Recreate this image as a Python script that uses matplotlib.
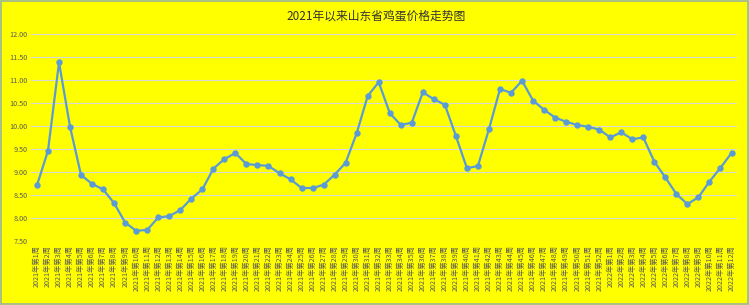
import matplotlib
matplotlib.use("Agg")
import matplotlib.pyplot as plt
from matplotlib.patches import Rectangle

plt.rcParams['font.family'] = ['Noto Sans CJK SC', 'DejaVu Sans']

# 周次标签
weeks = [f"2021年第{i}周" for i in range(1, 53)] + [f"2022年第{i}周" for i in range(1, 13)]

# 鸡蛋价格（元/公斤）
prices_2021 = [8.71, 9.46, 11.38, 9.98, 8.93, 8.74, 8.62, 8.32, 7.90, 7.72,
               7.74, 8.01, 8.04, 8.17, 8.42, 8.62, 9.07, 9.28, 9.41, 9.17,
               9.15, 9.13, 8.97, 8.84, 8.65, 8.65, 8.72, 8.94, 9.20, 9.84,
               10.65, 10.95, 10.28, 10.02, 10.07, 10.73, 10.58, 10.46, 9.78, 9.08,
               9.13, 9.93, 10.80, 10.72, 10.98, 10.55, 10.35, 10.18, 10.09, 10.02,
               9.98, 9.92]
prices_2022 = [9.75, 9.86, 9.71, 9.75, 9.22, 8.88, 8.52, 8.30, 8.45, 8.79,
               9.09, 9.41]
prices = prices_2021 + prices_2022

yticks = [7.5 + 0.5 * i for i in range(10)]

bg = '#ffff00'
fig = plt.figure(figsize=(7.49, 3.05), dpi=100, facecolor=bg)
ax = fig.add_axes([0.042, 0.21, 0.942, 0.679])
ax.set_facecolor(bg)

x = list(range(len(prices)))
ax.plot(x, prices, color='#5b9bd5', lw=1.6, marker='o', markersize=3.6, zorder=3)

ax.set_ylim(7.5, 12.0)
ax.set_xlim(-0.5, len(prices) - 0.5)
ax.set_yticks(yticks)
ax.set_yticklabels([f"{v:.2f}" for v in yticks])
ax.set_xticks(x)
ax.set_xticklabels(weeks, rotation=90)
ax.tick_params(axis='both', length=0, labelsize=5.2, labelcolor='#595959', pad=3)
ax.grid(axis='y', color='#d9d9d9', lw=0.8)
ax.set_axisbelow(True)
for s in ax.spines.values():
    s.set_visible(False)

fig.text(0.502, 0.948, '2021年以来山东省鸡蛋价格走势图', ha='center', va='center',
         fontsize=8.5, color='#333333', fontweight='medium')

# 外框
fig.patches.append(Rectangle((0.002, 0.004), 0.996, 0.992, transform=fig.transFigure,
                             fill=False, ec='#9bb59b', lw=1.2))

fig.savefig('out.png', dpi=100, facecolor=bg)
